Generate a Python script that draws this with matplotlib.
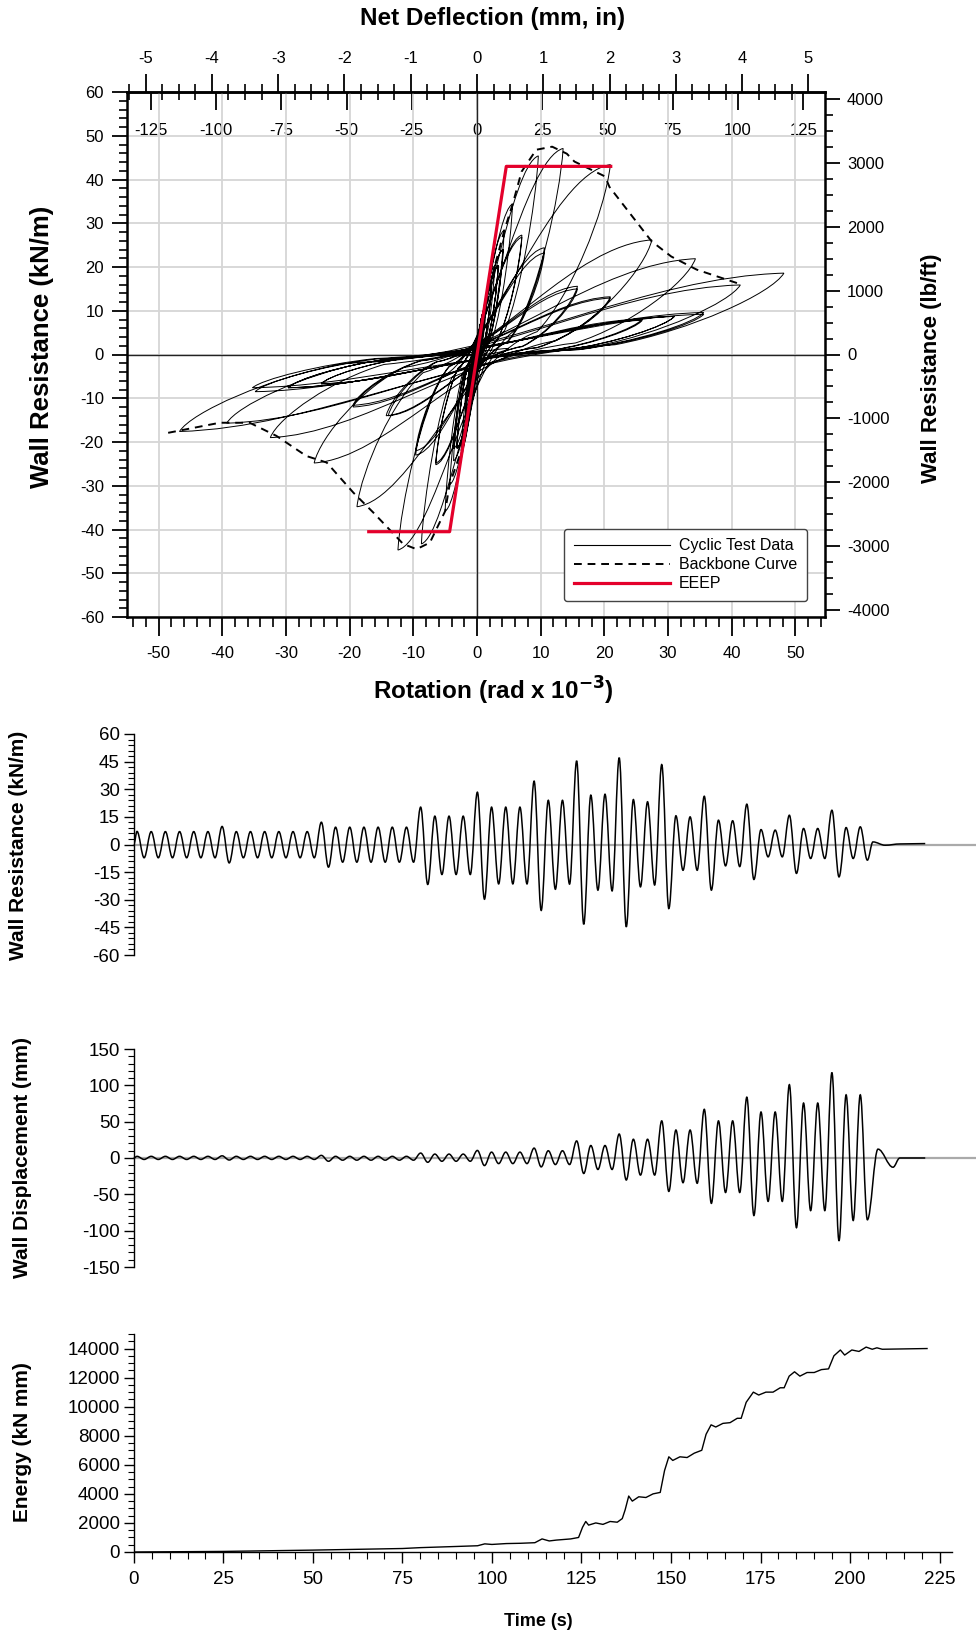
import matplotlib
matplotlib.use('Agg')
import matplotlib.pyplot as plt
from matplotlib.path import Path
from matplotlib.patches import PathPatch
from matplotlib.lines import Line2D
from matplotlib.ticker import MultipleLocator, FixedLocator, NullLocator
import numpy as np

plt.rcParams['font.family'] = ['Liberation Sans Narrow', 'Liberation Sans', 'DejaVu Sans']
plt.rcParams['axes.unicode_minus'] = False

# ---- data ----
# cycle timing (s)
first_peak_t = 0.9
cycle_period = 3.96

# wall resistance (kN/m), positive peak and negative trough of each cycle
res_peak = [7.1, 7, 7, 7, 7, 7, 9.8, 7, 7, 7, 7, 7, 7, 12.1,
            9.4, 9.4, 9.4, 9.4, 9.4, 9.4, 20.3, 15.4, 15.4, 15.4,
            28.4, 20.3, 20.3, 20.3, 34.4, 24, 24, 45.4, 26.8, 27.3,
            47.1, 24.4, 23.2, 43.4, 15.6, 15, 26.2, 13.2, 12.9, 21.9,
            8.1, 7.8, 15.9, 8.7, 8.7, 18.6, 9.2, 9.6]
res_trough = [-7.2, -7.2, -7.2, -7.2, -7.2, -7.2, -10, -7.2, -7.2, -7.2, -7.2, -7.2, -7.2, -12.3,
              -9.6, -9.6, -9.6, -9.6, -9.6, -9.6, -21.7, -16.3, -16.3, -16.3,
              -29.7, -21.4, -21.4, -21.4, -35.8, -24.3, -21.5, -43.3, -24.8, -25.2,
              -44.7, -23, -22, -34.8, -14, -14, -24.8, -11.6, -12, -19,
              -6.7, -6.7, -15.7, -7.6, -7.6, -17.6, -7.6, -8.5]
res_tail_t = [206.4, 209.8, 214.0, 221.0]
res_tail = [1.4, -0.4, 0.3, 0.5]

# wall displacement (mm)
disp_peak = [2.3, 2.3, 2.3, 2.3, 2.3, 2.3, 3.0, 2.3, 2.3, 2.3, 2.3, 2.3, 2.3, 3.6,
             2.3, 2.3, 2.3, 2.3, 2.3, 2.3, 6.8, 5.4, 5.4, 5.4,
             10.4, 8.1, 8.1, 8.1, 13.6, 10, 10, 23.5, 17.2, 17.2,
             33, 25.8, 25.8, 51.1, 38.5, 38.5, 67, 51.1, 51.1, 83.7,
             63.3, 63.3, 100.9, 75.6, 75.6, 117.6, 86.9, 86.9]
disp_trough = [-2.0, -2.0, -2.0, -2.0, -2.0, -2.0, -2.8, -2.0, -2.0, -2.0, -2.0, -2.0, -2.0, -4.5,
               -3, -3, -3, -3, -3, -3, -5.9, -4.5, -4.5, -4.5,
               -10.4, -7.7, -7.7, -7.7, -12.2, -9, -9, -21.3, -15.8, -15.8,
               -30.3, -23.5, -23.5, -46, -34, -34.8, -62.4, -47.5, -47.5, -79.2,
               -59.7, -59.7, -95.9, -72.4, -72.4, -114, -86, -85]
disp_tail_t = [207.8, 212.0, 213.9, 221.0]
disp_tail = [12.2, -12.7, 0.0, 0.0]

# cumulative energy (kN mm)
energy_t = [0, 25, 50, 75, 80, 90, 96, 98, 100, 104, 108, 112, 114, 116, 118, 120, 122,
            124.2, 125.3, 126.2, 127, 129, 131, 133, 135, 136.4, 137.2, 138.2, 139.2,
            141, 143, 145, 147, 148.2, 149.4, 150.5, 152.5, 154.5, 156.5, 158.6, 159.8,
            161.2, 162.5, 164.5, 166.5, 168.5, 169.6, 171, 173, 174.5, 176.5, 178.5,
            180.5, 181.6, 183, 184.5, 186, 188, 190, 192, 194, 195.5, 197.3, 198.5,
            200.5, 202.5, 204.5, 206.2, 207.5, 209, 221.5]
energy = [0, 40, 130, 240, 300, 380, 430, 560, 520, 580, 600, 640, 900, 760, 820, 860, 900,
          1000, 1700, 2100, 1850, 2000, 1900, 2100, 2050, 2300, 2900, 3850, 3500,
          3800, 3750, 4000, 4100, 5600, 6550, 6300, 6550, 6500, 6800, 7000, 8100,
          8750, 8600, 8850, 8900, 9200, 9200, 10300, 11000, 10800, 11000, 11000,
          11300, 11300, 12100, 12400, 12100, 12350, 12350, 12550, 12600, 13500, 13900, 13550,
          13900, 13800, 14100, 13950, 14050, 13950, 14000]

# backbone curve (rotation rad x 1e-3, kN/m)
backbone_rot = [-48.5, -40.4, -35.7, -31.5, -26.8, -23.6, -19.4, -16.3, -11.6, -9.5, -7.4,
                -5.0, -4.3, -2.4, 0, 2.8, 4.3, 5.6, 7.0, 9.3, 11.8, 14.1, 15.3, 20.1,
                20.8, 27.4, 30.5, 34.5, 41.5]
backbone_res = [-17.9, -15.6, -15.6, -18.6, -23.2, -24.7, -31.6, -36.1, -43.3, -44.5, -43.0,
                -35.8, -29.7, -21.7, 0, 20.3, 28.4, 34.4, 41.8, 46.8, 47.5, 45.9, 44.1, 40.7,
                38.3, 25.9, 22.4, 19.4, 16.0]

# EEEP bilinear curve
eeep_rot = [-17, -4.3, 4.6, 21]
eeep_res = [-40.5, -40.5, 43, 43]

# secondary axis tick values
inch_ticks = [-5, -4, -3, -2, -1, 0, 1, 2, 3, 4, 5]
mm_ticks = [-125, -100, -75, -50, -25, 0, 25, 50, 75, 100, 125]
lbft_ticks = [-4000, -3000, -2000, -1000, 0, 1000, 2000, 3000, 4000]

wall_height = 2.44      # mm of deflection per (rad x 1e-3)
kn_to_lbft = 68.52


# ---- helpers ----
def interleave(a, b):
    out = []
    for p, q in zip(a, b):
        out += [p, q]
    return out


def wave_path(ts, vs):
    # smooth half-waves between successive extremes
    verts = [(ts[0], vs[0])]
    codes = [Path.MOVETO]
    for i in range(len(ts) - 1):
        dt = ts[i + 1] - ts[i]
        verts += [(ts[i] + 0.36 * dt, vs[i]), (ts[i + 1] - 0.36 * dt, vs[i + 1]),
                  (ts[i + 1], vs[i + 1])]
        codes += [Path.CURVE4] * 3
    return Path(verts, codes)


def loop_path(xs, ys):
    # pinched hysteresis: unload from previous extreme, slip through origin, reload
    verts = [(xs[0], ys[0])]
    codes = [Path.MOVETO]
    for i in range(len(xs) - 1):
        x0, y0, x1, y1 = xs[i], ys[i], xs[i + 1], ys[i + 1]
        verts += [(0.96 * x0, 0.75 * y0), (0.7 * x0, 0.3 * y0), (0.45 * x0, 0.12 * y0),
                  (0.1 * x1, 0.02 * y1), (0.55 * x1, 0.95 * y1), (x1, y1)]
        codes += [Path.CURVE4] * 6
    return Path(verts, codes)


t_peak = first_peak_t + cycle_period * np.arange(len(res_peak))
t_trough = t_peak + cycle_period / 2

t_seq = [0.0] + interleave(t_peak, t_trough)
res_seq = [0.0] + interleave(res_peak, res_trough) + res_tail
disp_seq = [0.0] + interleave(disp_peak, disp_trough) + disp_tail
rot_seq = [d / wall_height for d in disp_seq]

fig = plt.figure(figsize=(9.76, 16.36), dpi=100)
W, H = 976.0, 1636.0


def rect(l, t, r, b):
    return [l / W, 1 - b / H, (r - l) / W, (b - t) / H]


# ================= hysteresis plot =================
ax = fig.add_axes(rect(127.4, 92, 824.7, 617))
ax.set_xlim(-54.9, 54.6)
ax.set_ylim(-60, 60)
ax.grid(True, color='#d6d6d6', lw=1.3, zorder=0)
ax.set_axisbelow(True)
ax.axhline(0, color='#222222', lw=1.0, zorder=1)
ax.axvline(0, color='#222222', lw=1.0, zorder=1)

ax.add_patch(PathPatch(loop_path(rot_seq, res_seq), fill=False, ec='black', lw=0.7, zorder=3))
ax.plot(backbone_rot, backbone_res, color='black', lw=1.4, ls=(0, (4, 3)), zorder=4)
ax.plot(eeep_rot, eeep_res, color='#e4002b', lw=2.3, zorder=5)

for s in ax.spines.values():
    s.set_linewidth(1.8)
ax.xaxis.set_major_locator(MultipleLocator(10))
ax.xaxis.set_minor_locator(MultipleLocator(2))
ax.yaxis.set_major_locator(MultipleLocator(10))
ax.yaxis.set_minor_locator(MultipleLocator(2))
ax.tick_params(axis='x', which='major', direction='out', length=14, width=1.3,
               labelsize=12, pad=7, top=False)
ax.tick_params(axis='x', which='minor', direction='out', length=7, width=1.2, top=False)
ax.tick_params(axis='y', which='major', direction='out', length=11, width=1.3,
               labelsize=12, pad=6, right=False)
ax.tick_params(axis='y', which='minor', direction='out', length=6, width=1.2, right=False)

# top axes: inches (outside) and mm (inside)
ax_in = ax.secondary_xaxis('top', functions=(lambda r: r * wall_height / 25.4,
                                             lambda i: i * 25.4 / wall_height))
ax_in.xaxis.set_major_locator(FixedLocator(inch_ticks))
ax_in.xaxis.set_minor_locator(MultipleLocator(0.25))
ax_in.tick_params(which='major', direction='out', length=13, width=1.3, labelsize=12, pad=6)
ax_in.tick_params(which='minor', direction='inout', length=12, width=1.2)
ax_in.spines['top'].set_linewidth(1.8)

ax_mm = ax.secondary_xaxis('top', functions=(lambda r: r * wall_height,
                                             lambda m: m / wall_height))
ax_mm.xaxis.set_major_locator(FixedLocator(mm_ticks))
ax_mm.xaxis.set_minor_locator(NullLocator())
ax_mm.tick_params(which='major', direction='in', length=13, width=1.3, labelsize=12, pad=-33)

ax_lb = ax.secondary_yaxis('right', functions=(lambda k: k * kn_to_lbft,
                                               lambda p: p / kn_to_lbft))
ax_lb.yaxis.set_major_locator(FixedLocator(lbft_ticks))
ax_lb.yaxis.set_minor_locator(MultipleLocator(250))
ax_lb.tick_params(which='major', direction='out', length=11, width=1.3, labelsize=12, pad=5)
ax_lb.tick_params(which='minor', direction='out', length=6, width=1.2)

handles = [Line2D([], [], color='black', lw=0.8),
           Line2D([], [], color='black', lw=1.4, ls=(0, (4, 3))),
           Line2D([], [], color='#e4002b', lw=2.3)]
leg = ax.legend(handles, ['Cyclic Test Data', 'Backbone Curve', 'EEEP'],
                loc='lower right', bbox_to_anchor=(0.9746, 0.0305), borderaxespad=0,
                fontsize=11.5, handlelength=6.0, handletextpad=0.6, labelspacing=0.25,
                fancybox=True, framealpha=1, edgecolor='#444444', borderpad=0.6)
leg.get_frame().set_linewidth(1.0)

bold = dict(fontweight='bold')
fig.text(493 / W, 1 - 19 / H, 'Net Deflection (mm, in)', ha='center', va='center',
         fontsize=17.5, **bold)
fig.text(493 / W, 1 - 691 / H, 'Rotation (rad x 10$^{\\mathbf{-3}}$)', ha='center',
         va='center', fontsize=17.5, **bold)
fig.text(42 / W, 1 - 347 / H, 'Wall Resistance (kN/m)', rotation=90, ha='center',
         va='center', fontsize=18.5, family=['Liberation Sans', 'DejaVu Sans'], **bold)
fig.text(932 / W, 1 - 368 / H, 'Wall Resistance (lb/ft)', rotation=90, ha='center',
         va='center', fontsize=16, family=['Liberation Sans', 'DejaVu Sans'], **bold)

# ================= time histories =================
xmax = 228.5
t_left, t_right = 133.8, 952.1


def time_axes(l_t, l_b, ylo, yhi, major, minor):
    a = fig.add_axes(rect(t_left, l_t, t_right, l_b))
    a.set_xlim(0, xmax)
    a.set_ylim(ylo, yhi)
    for side in ['top', 'right', 'bottom']:
        a.spines[side].set_visible(False)
    a.spines['left'].set_linewidth(1.0)
    a.yaxis.set_major_locator(MultipleLocator(major))
    a.yaxis.set_minor_locator(MultipleLocator(minor))
    a.tick_params(axis='y', which='major', direction='out', length=7, width=1.0,
                  labelsize=13.5, pad=3)
    a.tick_params(axis='y', which='minor', direction='out', length=4, width=0.8)
    return a


ax_r = time_axes(734, 955, -60, 60, 15, 3)
ax_r.set_xticks([])
ax_r.axhline(0, xmin=0, xmax=1.03, color='#aaaaaa', lw=1.6, clip_on=False, zorder=1)
ax_r.add_patch(PathPatch(wave_path(t_seq + res_tail_t, res_seq), fill=False,
                         ec='black', lw=1.1, zorder=3))

ax_d = time_axes(1049, 1267, -150, 150, 50, 10)
ax_d.set_xticks([])
ax_d.axhline(0, xmin=0, xmax=1.03, color='#aaaaaa', lw=1.6, clip_on=False, zorder=1)
ax_d.add_patch(PathPatch(wave_path(t_seq + disp_tail_t, disp_seq), fill=False,
                         ec='black', lw=1.1, zorder=3))

ax_e = time_axes(1334, 1552, 0, 15000, 2000, 500)
ax_e.spines['bottom'].set_visible(True)
ax_e.spines['bottom'].set_linewidth(1.0)
ax_e.xaxis.set_major_locator(MultipleLocator(25))
ax_e.xaxis.set_minor_locator(MultipleLocator(5))
ax_e.tick_params(axis='x', which='major', direction='out', length=8, width=1.0,
                 labelsize=13.5, pad=6)
ax_e.tick_params(axis='x', which='minor', direction='out', length=5, width=0.8)
ax_e.plot(energy_t, energy, color='black', lw=1.0)

ylab = dict(rotation=90, ha='center', va='center', fontsize=15,
            family=['Liberation Sans', 'DejaVu Sans'], fontweight='bold')
fig.text(19 / W, 1 - 845 / H, 'Wall Resistance (kN/m)', **ylab)
fig.text(23 / W, 1 - 1157 / H, 'Wall Displacement (mm)', **ylab)
fig.text(23 / W, 1 - 1442 / H, 'Energy (kN mm)', **ylab)
fig.text(538 / W, 1 - 1621 / H, 'Time (s)', ha='center', va='center', fontsize=13,
         fontweight='bold')

plt.savefig('out.png', dpi=100)
